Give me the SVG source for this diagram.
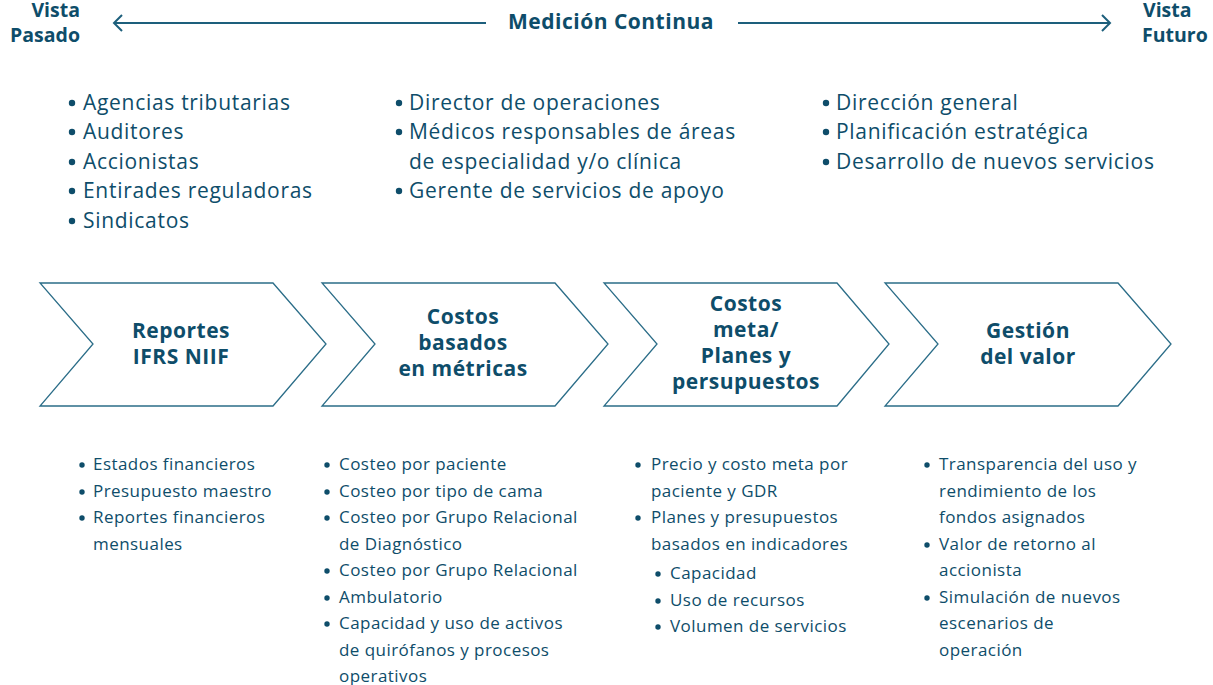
<svg xmlns="http://www.w3.org/2000/svg" width="1213" height="685" viewBox="0 0 1213 685">
<style>
text{font-family:"Open Sans","Noto Sans",sans-serif;fill:#0e4d6a}
.h{font-weight:700;font-size:21px;letter-spacing:0.5px}
.v{font-weight:700;font-size:19.5px}
.t{font-size:21px;letter-spacing:0.7px}
.s{font-size:17px;letter-spacing:0.45px}
.c{text-anchor:middle}
.chev{fill:#fff;stroke:#2b6d88;stroke-width:1.3}
.ln{stroke:#1d5f7c;stroke-width:2;fill:none}
.b{fill:#0e4d6a}
</style>
<g id="timeline">
<text class="v" x="80" y="17" text-anchor="end">Vista</text>
<text class="v" x="80" y="42" text-anchor="end">Pasado</text>
<text class="h c" x="611" y="29">Medición Continua</text>
<text class="v" x="1143" y="17">Vista</text>
<text class="v" x="1142" y="42">Futuro</text>
</g>
<g id="connectors">
<path class="ln" d="M486 23H114M122 15L114 23L122 31"/>
<path class="ln" d="M738 23H1110M1102 15L1110 23L1102 31"/>
</g>
<g id="top-lists">
<g class="b">
<circle cx="72" cy="103" r="3.2"/><circle cx="72" cy="132" r="3.2"/><circle cx="72" cy="162" r="3.2"/><circle cx="72" cy="191" r="3.2"/><circle cx="72" cy="221" r="3.2"/>
<circle cx="399" cy="103" r="3.2"/><circle cx="399" cy="132" r="3.2"/><circle cx="399" cy="191" r="3.2"/>
<circle cx="826" cy="103" r="3.2"/><circle cx="826" cy="132" r="3.2"/><circle cx="826" cy="162" r="3.2"/>
</g>
<text class="t" x="83" y="110">Agencias tributarias</text>
<text class="t" x="83" y="139">Auditores</text>
<text class="t" x="83" y="169">Accionistas</text>
<text class="t" x="83" y="198">Entirades reguladoras</text>
<text class="t" x="83" y="228">Sindicatos</text>
<text class="t" x="409" y="110">Director de operaciones</text>
<text class="t" x="409" y="139">Médicos responsables de áreas</text>
<text class="t" x="409" y="169">de  especialidad y/o clínica</text>
<text class="t" x="409" y="198">Gerente de servicios de apoyo</text>
<text class="t" x="836" y="110">Dirección general</text>
<text class="t" x="836" y="139">Planificación estratégica</text>
<text class="t" x="836" y="169">Desarrollo de nuevos servicios</text>
</g>
<g id="node1">
<path class="chev" d="M40 283H273L326 344L273 406H40L93 344Z"/>
<text class="h c" x="181" y="338">Reportes</text>
<text class="h c" x="181" y="364">IFRS NIIF</text>
</g>
<g id="node2">
<path class="chev" d="M322 283H555L608 344L555 406H322L375 344Z"/>
<text class="h c" x="463" y="324">Costos</text>
<text class="h c" x="463" y="350">basados</text>
<text class="h c" x="463" y="376">en métricas</text>
</g>
<g id="node3">
<path class="chev" d="M604 283H837L889 344L837 406H604L657 344Z"/>
<text class="h c" x="746" y="311">Costos</text>
<text class="h c" x="746" y="337">meta/</text>
<text class="h c" x="746" y="363">Planes y</text>
<text class="h c" x="746" y="389">persupuestos</text>
</g>
<g id="node4">
<path class="chev" d="M885 283H1118L1171 344L1118 406H885L938 344Z"/>
<text class="h c" x="1028" y="338">Gestión</text>
<text class="h c" x="1028" y="364">del valor</text>
</g>
<g id="bottom-lists">
<g class="b">
<circle cx="82" cy="465" r="2.7"/><circle cx="82" cy="492" r="2.7"/><circle cx="82" cy="518" r="2.7"/>
<circle cx="327" cy="465" r="2.7"/><circle cx="327" cy="492" r="2.7"/><circle cx="327" cy="518" r="2.7"/><circle cx="327" cy="571" r="2.7"/><circle cx="327" cy="598" r="2.7"/><circle cx="327" cy="624" r="2.7"/>
<circle cx="638" cy="465" r="2.7"/><circle cx="638" cy="518" r="2.7"/><circle cx="658" cy="574" r="2.7"/><circle cx="658" cy="601" r="2.7"/><circle cx="658" cy="627" r="2.7"/>
<circle cx="927" cy="465" r="2.7"/><circle cx="927" cy="545" r="2.7"/><circle cx="927" cy="598" r="2.7"/>
</g>
<text class="s" x="93" y="470">Estados financieros</text>
<text class="s" x="93" y="497">Presupuesto maestro</text>
<text class="s" x="93" y="523">Reportes financieros</text>
<text class="s" x="93" y="550">mensuales</text>
<text class="s" x="339" y="470">Costeo por paciente</text>
<text class="s" x="339" y="497">Costeo por tipo de cama</text>
<text class="s" x="339" y="523">Costeo por Grupo Relacional</text>
<text class="s" x="339" y="550">de Diagnóstico</text>
<text class="s" x="339" y="576">Costeo por Grupo Relacional</text>
<text class="s" x="339" y="603">Ambulatorio</text>
<text class="s" x="339" y="629">Capacidad y uso de activos</text>
<text class="s" x="339" y="656">de quirófanos y procesos</text>
<text class="s" x="339" y="682">operativos</text>
<text class="s" x="651" y="470">Precio y costo meta por</text>
<text class="s" x="651" y="497">paciente y GDR</text>
<text class="s" x="651" y="523">Planes y presupuestos</text>
<text class="s" x="651" y="550">basados en indicadores</text>
<text class="s" x="670" y="579">Capacidad</text>
<text class="s" x="670" y="606">Uso de recursos</text>
<text class="s" x="670" y="632">Volumen de servicios</text>
<text class="s" x="939" y="470">Transparencia del uso y</text>
<text class="s" x="939" y="497">rendimiento de los</text>
<text class="s" x="939" y="523">fondos asignados</text>
<text class="s" x="939" y="550">Valor de retorno al</text>
<text class="s" x="939" y="576">accionista</text>
<text class="s" x="939" y="603">Simulación de nuevos</text>
<text class="s" x="939" y="629">escenarios de</text>
<text class="s" x="939" y="656">operación</text>
</g>
</svg>
